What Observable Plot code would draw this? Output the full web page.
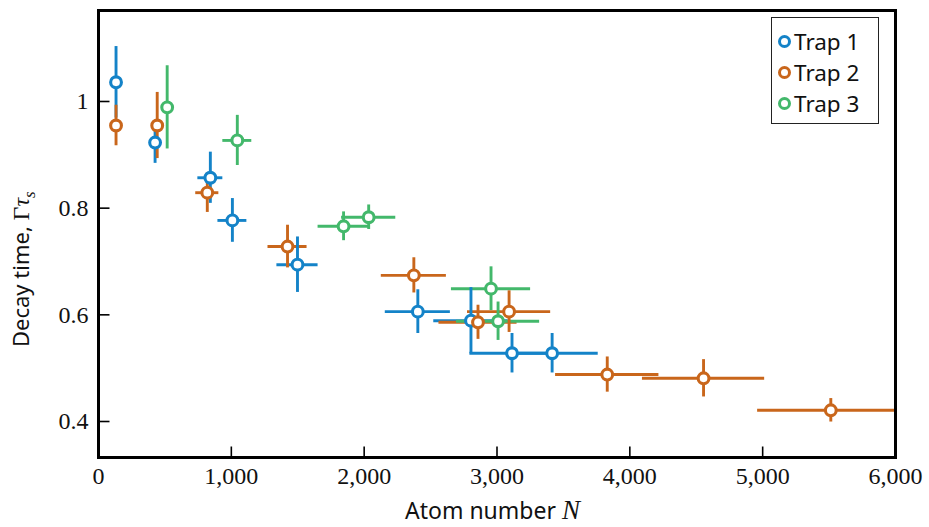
<!DOCTYPE html>
<html><head><meta charset="utf-8">
<script src="https://cdn.jsdelivr.net/npm/d3@7"></script>
<script src="https://cdn.jsdelivr.net/npm/@observablehq/plot@0.6"></script>
<style>
body{margin:0;background:#fff;}
#wrap{position:relative;width:929px;height:527px;overflow:hidden;}
#legend{position:absolute;left:771px;top:17px;width:106px;height:105px;border:1.5px solid #222;background:#fff;font-family:"Noto Sans",sans-serif;font-size:22.5px;color:#111;}
.row{position:absolute;left:6px;height:30px;display:flex;align-items:center;}
.mk{width:7px;height:7px;border-radius:50%;border:3px solid;background:#fff;margin-right:3px;}
</style></head><body><div id="wrap"></div>
<script>
// ---- data ----
const series = ["Trap 1", "Trap 2", "Trap 3"];
const colors = ["#1483c8", "#c9661b", "#43b86b"];

const trap1N      = [132, 426, 842, 1008, 1498, 2404, 2804, 3113, 3415];
const trap1NErr   = [0, 0, 94, 109, 155, 245, 280, 317, 347];
const trap1Tau    = [1.036, 0.923, 0.857, 0.777, 0.694, 0.606, 0.589, 0.528, 0.528];
const trap1TauErr = [0.067, 0.039, 0.048, 0.041, 0.052, 0.041, 0.062, 0.037, 0.037];

const trap2N      = [132, 442, 819, 1423, 2374, 2857, 3091, 3830, 4555, 5513];
const trap2NErr   = [0, 0, 87, 147, 245, 294, 313, 389, 460, 551];
const trap2Tau    = [0.955, 0.955, 0.829, 0.728, 0.674, 0.586, 0.606, 0.488, 0.481, 0.421];
const trap2TauErr = [0.038, 0.062, 0.037, 0.040, 0.033, 0.032, 0.039, 0.033, 0.035, 0.022];

const trap3N      = [517, 1045, 1845, 2034, 2955, 3008];
const trap3NErr   = [0, 109, 192, 204, 298, 313];
const trap3Tau    = [0.989, 0.927, 0.766, 0.783, 0.649, 0.588];
const trap3TauErr = [0.078, 0.047, 0.027, 0.023, 0.041, 0.036];

const xTicks = [0, 1000, 2000, 3000, 4000, 5000, 6000];
const yTicks = [0.4, 0.6, 0.8, 1];
const xDomain = [0, 6000];
const yDomain = [0.3325, 1.1706];

// ---- build table ----
function rows(name, N, NE, T, TE) {
  return N.map((n, i) => ({trap: name, N: n, NErr: NE[i], tau: T[i], tauErr: TE[i]}));
}
const data = [
  ...rows(series[0], trap1N, trap1NErr, trap1Tau, trap1TauErr),
  ...rows(series[1], trap2N, trap2NErr, trap2Tau, trap2TauErr),
  ...rows(series[2], trap3N, trap3NErr, trap3Tau, trap3TauErr)
];

const W = 929, H = 527, ML = 98, MR = 34, MT = 10, MB = 70;
const TICK = 11;
// inward tick lengths converted from pixels into data units
const tickLenY = TICK * (yDomain[1] - yDomain[0]) / (H - MT - MB);
const tickLenX = TICK * (xDomain[1] - xDomain[0]) / (W - ML - MR);
const xTickRows = xTicks.map(v => ({v, a: yDomain[0], b: yDomain[0] + tickLenY}));
const yTickRows = yTicks.map(v => ({v, a: xDomain[0], b: xDomain[0] + tickLenX}));

const chart = Plot.plot({
  width: W, height: H,
  marginLeft: ML, marginRight: MR, marginTop: MT, marginBottom: MB,
  style: {fontFamily: "'Liberation Serif', serif", fontSize: "24px", background: "white"},
  x: {domain: xDomain},
  y: {domain: yDomain},
  color: {domain: series, range: colors},
  marks: [
    Plot.ruleY(data.filter(d => d.NErr > 0), {x1: d => d.N - d.NErr, x2: d => d.N + d.NErr, y: "tau", stroke: "trap", strokeWidth: 2.9, clip: true}),
    Plot.ruleX(data, {x: "N", y1: d => d.tau - d.tauErr, y2: d => d.tau + d.tauErr, stroke: "trap", strokeWidth: 2.9, clip: true}),
    Plot.dot(data, {x: "N", y: "tau", r: 5.4, stroke: "trap", fill: "white", strokeWidth: 3.1}),
    Plot.axisX({ticks: xTicks, anchor: "bottom", tickSize: 0, tickPadding: 9, tickFormat: d3.format(","), fontSize: 24, fontFamily: "'Liberation Serif', serif", fill: "#111", label: null}),
    Plot.axisY({ticks: yTicks, anchor: "left", tickSize: 0, tickPadding: 10, tickFormat: d => String(d), fontSize: 24, fontFamily: "'Liberation Serif', serif", fill: "#111", label: null}),
    Plot.link(xTickRows, {x1: "v", x2: "v", y1: "a", y2: "b", stroke: "#000", strokeWidth: 1.6}),
    Plot.link(yTickRows, {y1: "v", y2: "v", x1: "a", x2: "b", stroke: "#000", strokeWidth: 1.6}),
    Plot.frame({stroke: "black", strokeWidth: 3})
  ]
});

const wrap = document.getElementById("wrap");
wrap.appendChild(chart);

// axis titles
const svg = d3.select(chart);
const xt = svg.append("text")
  .attr("x", 405).attr("y", 519)
  .attr("text-anchor", "start")
  .style("font-family", "'Noto Sans', sans-serif").style("font-size", "23px").attr("fill", "#111");
xt.append("tspan").text("Atom number ");
xt.append("tspan").text("N").style("font-family", "'Liberation Serif', serif").style("font-style", "italic").style("font-size", "27px");

const yt = svg.append("text")
  .attr("transform", "translate(29,347) rotate(-90)")
  .attr("text-anchor", "start")
  .style("font-family", "'Noto Sans', sans-serif").style("font-size", "22px").attr("fill", "#111");
yt.append("tspan").text("Decay time, ");
yt.append("tspan").text("Γ").style("font-family", "'Liberation Serif', serif").style("font-size", "24px");
yt.append("tspan").text("τ").style("font-family", "'Liberation Serif', serif").style("font-style", "italic").style("font-size", "24px");
yt.append("tspan").text("s").attr("dy", 6).style("font-family", "'Liberation Serif', serif").style("font-style", "italic").style("font-size", "17px");

// legend
const legend = document.createElement("div");
legend.id = "legend";
series.forEach((s, i) => {
  const r = document.createElement("div");
  r.className = "row";
  r.style.top = (8 + i * 31) + "px";
  const m = document.createElement("span");
  m.className = "mk";
  m.style.borderColor = colors[i];
  const t = document.createElement("span");
  t.textContent = s;
  r.appendChild(m); r.appendChild(t);
  legend.appendChild(r);
});
wrap.appendChild(legend);
</script>
</body></html>
